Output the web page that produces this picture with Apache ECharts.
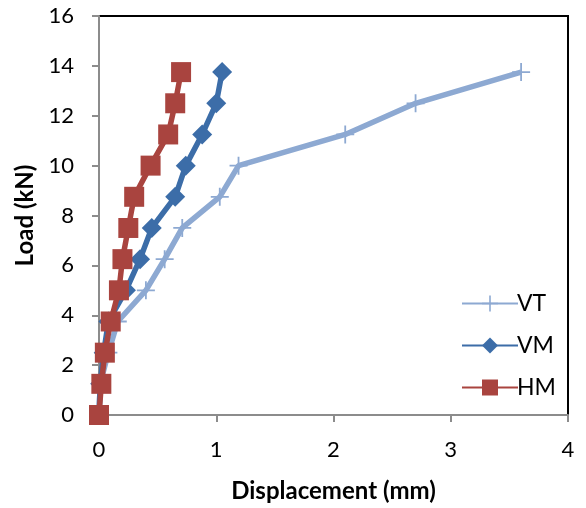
<!DOCTYPE html>
<html><head><meta charset="utf-8">
<script src="https://cdn.jsdelivr.net/npm/echarts@6/dist/echarts.min.js"></script>
<style>html,body{margin:0;padding:0;background:#fff}#c{width:586px;height:508px}</style>
</head><body><div id="c"></div>
<script>
const load = [0, 1.25, 2.5, 3.75, 5, 6.25, 7.5, 8.75, 10, 11.25, 12.5, 13.75];
const dispVT = [0, 0.01, 0.08, 0.16, 0.40, 0.56, 0.71, 1.03, 1.19, 2.10, 2.70, 3.60];
const dispVM = [0, 0.01, 0.04, 0.08, 0.23, 0.35, 0.45, 0.65, 0.74, 0.88, 1.00, 1.05];
const dispHM = [0, 0.02, 0.05, 0.10, 0.17, 0.20, 0.25, 0.30, 0.44, 0.59, 0.65, 0.70];
const names = ['VT', 'VM', 'HM'];
const colors = ['#8DA9D2', '#3C6DA8', '#A9443F'];

const pair = d => d.map((x, i) => [x, load[i]]);
const font = 'Lato, "Open Sans", sans-serif';
const chart = echarts.init(document.getElementById('c'));
chart.setOption({
  animation: false,
  textStyle: { fontFamily: font },
  grid: { left: 99, right: 18, top: 16, bottom: 92, show: true, borderColor: '#000', borderWidth: 2, backgroundColor: 'transparent' },
  legend: {
    orient: 'vertical', left: 456, top: 287, itemWidth: 56, itemHeight: 20, itemGap: 19,
    textStyle: { fontSize: 23, color: '#000', fontFamily: font, lineHeight: 20, padding: [0, 0, 0, -6] },
    data: names
  },
  xAxis: {
    type: 'value', min: 0, max: 4, interval: 1,
    name: 'Displacement (mm)', nameLocation: 'middle', nameGap: 64,
    nameTextStyle: { fontSize: 24, fontWeight: 'bold', color: '#000', fontFamily: font },
    axisLine: { lineStyle: { color: '#8c8c8c', width: 2 } },
    axisTick: { show: true, length: 7, lineStyle: { color: '#8c8c8c', width: 2 } },
    axisLabel: { fontSize: 22, color: '#000', margin: 24, fontFamily: font },
    splitLine: { show: false }
  },
  yAxis: {
    type: 'value', min: 0, max: 16, interval: 2,
    name: 'Load (kN)', nameLocation: 'middle', nameGap: 59, nameRotate: 90,
    nameTextStyle: { fontSize: 24, fontWeight: 'bold', color: '#000', fontFamily: font },
    axisLine: { lineStyle: { color: '#8c8c8c', width: 2 } },
    axisTick: { show: true, length: 7, lineStyle: { color: '#8c8c8c', width: 2 } },
    axisLabel: { fontSize: 22, color: '#000', margin: 25, fontFamily: font },
    splitLine: { show: false }
  },
  series: [
    { name: 'VT', type: 'line', data: pair(dispVT), color: colors[0],
      symbol: 'path://M7.2,0h1.6v16h-1.6z M0,7.2h16v1.6h-16z', symbolSize: 18,
      lineStyle: { width: 5.5, color: colors[0] }, itemStyle: { color: colors[0] } },
    { name: 'VM', type: 'line', data: pair(dispVM), color: colors[1],
      symbol: 'diamond', symbolSize: 20,
      lineStyle: { width: 5.5, color: colors[1] }, itemStyle: { color: colors[1] } },
    { name: 'HM', type: 'line', data: pair(dispHM), color: colors[2],
      symbol: 'rect', symbolSize: 20,
      lineStyle: { width: 5.5, color: colors[2] }, itemStyle: { color: colors[2] } }
  ]
});
</script></body></html>
